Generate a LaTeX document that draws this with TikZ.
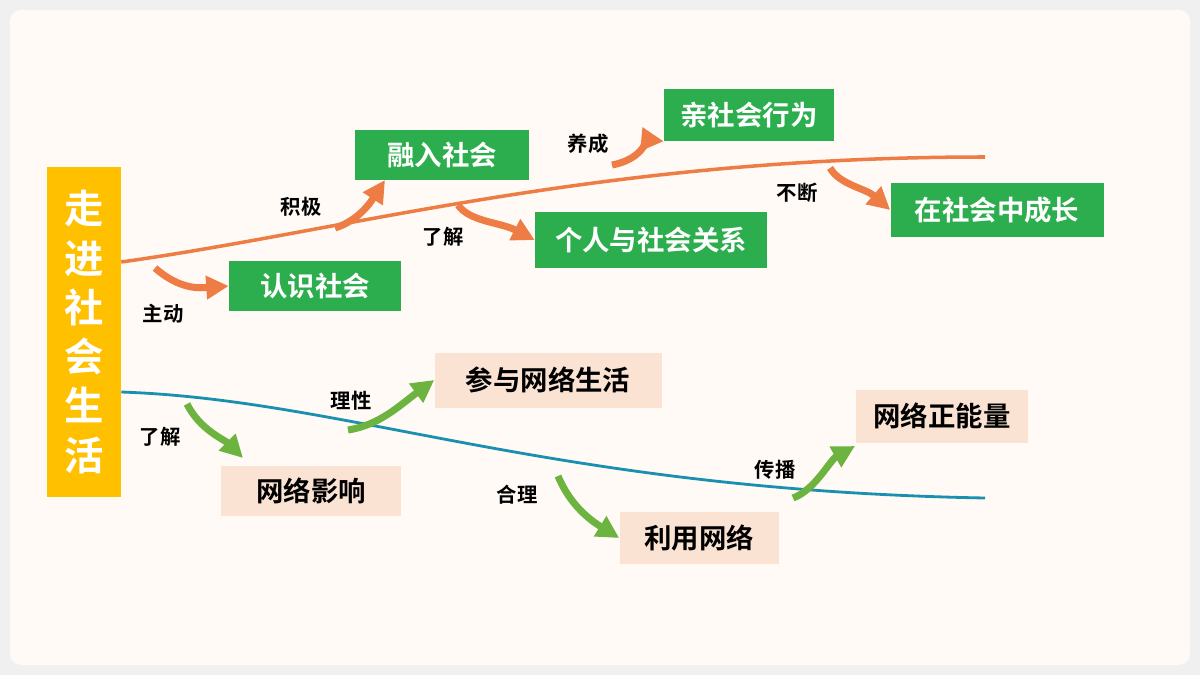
\documentclass[tikz,border=0pt]{standalone}
\usepackage{fontspec}
\setmainfont{Noto Sans CJK SC}[BoldFont={Noto Sans CJK SC Bold}]
\usetikzlibrary{arrows.meta}
\definecolor{gbox}{HTML}{2DAE4E}
\definecolor{pbox}{HTML}{FBE3D4}
\definecolor{ybox}{HTML}{FFC000}
\definecolor{oline}{HTML}{EE7D45}
\definecolor{bline}{HTML}{1A8FB0}
\definecolor{garr}{HTML}{6DB33F}
\tikzset{
 gn/.style={fill=gbox,text=white,font=\bfseries\fontsize{19.5}{22}\selectfont,inner sep=0,anchor=center},
 pn/.style={fill=pbox,text=black,font=\bfseries\fontsize{19.5}{22}\selectfont,inner sep=0,anchor=center},
 lb/.style={font=\bfseries\fontsize{14.5}{16}\selectfont,text=black},
 oa/.style={draw=oline,line width=5pt,-{Triangle[length=16pt,width=16pt]}},
 ga/.style={draw=garr,line width=5pt,-{Triangle[length=16pt,width=16pt]}}
}
\begin{document}
\begin{tikzpicture}[x=0.025cm,y=-0.025cm]
\useasboundingbox (0,0) rectangle (1200,675);
\fill[gray!12] (0,0) rectangle (1200,675);
\fill[white!96!orange,rounded corners=8pt] (10,10) rectangle (1190,665);
% main box
\node[fill=ybox,minimum width=74*0.025cm,minimum height=329*0.025cm,inner sep=0,text=white,font=\bfseries\fontsize{28}{35}\selectfont,align=center] (main) at (84,332) {走\\进\\社\\会\\生\\活};
% green boxes
\node[gn,minimum width=174*0.025cm,minimum height=50*0.025cm] (rr) at (442,155) {融入社会};
\node[gn,minimum width=170*0.025cm,minimum height=52*0.025cm] (qs) at (749,115) {亲社会行为};
\node[gn,minimum width=213*0.025cm,minimum height=54*0.025cm] (cz) at (997,210) {在社会中成长};
\node[gn,minimum width=232*0.025cm,minimum height=55*0.025cm] (gr) at (651,240) {个人与社会关系};
\node[gn,minimum width=172*0.025cm,minimum height=50*0.025cm] (rs) at (315,286) {认识社会};
% pink boxes
\node[pn,minimum width=227*0.025cm,minimum height=55*0.025cm] (cy) at (548,380) {参与网络生活};
\node[pn,minimum width=172*0.025cm,minimum height=53*0.025cm] (zn) at (942,416) {网络正能量};
\node[pn,minimum width=180*0.025cm,minimum height=50*0.025cm] (yx) at (311,491) {网络影响};
\node[pn,minimum width=159*0.025cm,minimum height=52*0.025cm] (ly) at (699,538) {利用网络};
% curves
\coordinate (oe) at (985,157);
\coordinate (be) at (985,498);
\draw[oline,line width=2.5pt] (main.east |- 0,262) .. controls (350,230) and (600,157) .. (oe);
\draw[bline,line width=2pt] (main.east |- 0,392) .. controls (350,400) and (550,490) .. (be);
% arrows
\draw[oa] (155,268) .. controls (180,290) and (200,288) .. (rs.west);
\draw[oa] (335,228) .. controls (360,220) and (372,200) .. (385,180);
\draw[oa] (458,205) .. controls (470,222) and (500,222) .. (gr.west);
\draw[oa] (612,165) .. controls (640,160) and (650,140) .. (qs.south west);
\draw[oa] (830,168) .. controls (840,185) and (865,188) .. (cz.west);
\draw[ga] (187,404) .. controls (200,430) and (225,440) .. (243,458);
\draw[ga] (348,430) .. controls (380,425) and (400,405) .. (cy.west);
\draw[ga] (558,476) .. controls (570,505) and (590,520) .. (ly.west);
\draw[ga] (793,498) .. controls (815,490) and (830,460) .. (855,446);
% labels
\node[lb] (l1) at (163,314) {主动};
\node[lb] (l2) at (301,207) {积极};
\node[lb] (l3) at (443,237) {了解};
\node[lb] (l4) at (588,144) {养成};
\node[lb] (l5) at (797,193) {不断};
\node[lb] (l6) at (160,437) {了解};
\node[lb] (l7) at (351,401) {理性};
\node[lb] (l8) at (517,495) {合理};
\node[lb] (l9) at (775,470) {传播};
\end{tikzpicture}
\end{document}
